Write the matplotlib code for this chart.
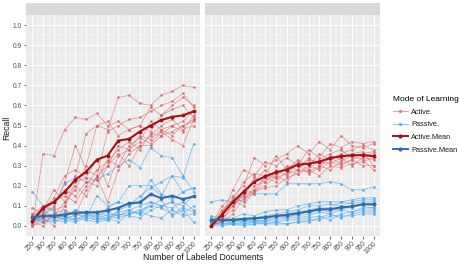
import numpy as np
import matplotlib
matplotlib.use("Agg")
import matplotlib.pyplot as plt
from matplotlib.lines import Line2D

plt.rcParams['font.family'] = ['Liberation Sans', 'DejaVu Sans']

docs = ["250", "300", "350", "400", "450", "500", "550", "600",
        "650", "700", "750", "800", "850", "900", "950", "1000"]

# BERT - individual active runs
bert_active = [
    [.01, .36, .35, .48, .54, .53, .56, .50, .52, .48, .50, .59, .55, .58, .60, .54],
    [.05, .08, .18, .12, .25, .46, .50, .48, .64, .65, .61, .60, .65, .67, .70, .69],
    [.02, .05, .10, .22, .40, .28, .25, .47, .50, .53, .54, .57, .60, .62, .66, .59],
    [.00, .02, .05, .12, .18, .30, .50, .52, .45, .48, .50, .47, .55, .60, .64, .60],
    [.09, .06, .12, .18, .15, .22, .20, .30, .40, .38, .42, .52, .48, .50, .47, .55],
    [.03, .10, .08, .10, .22, .24, .33, .20, .35, .38, .45, .43, .48, .45, .50, .53],
    [.00, .04, .00, .10, .20, .15, .25, .30, .36, .30, .40, .45, .50, .53, .48, .50],
    [.06, .10, .12, .15, .12, .20, .28, .32, .38, .42, .38, .46, .45, .50, .52, .57],
    [.02, .08, .14, .25, .28, .24, .23, .33, .30, .40, .44, .41, .47, .43, .40, .53],
    [.02, .00, .06, .08, .05, .18, .24, .12, .28, .36, .40, .40, .45, .47, .50, .52],
]
bert_passive = [
    [.17, .10, .07, .04, .03, .05, .03, .06, .05, .08, .10, .12, .10, .09, .12, .08],
    [.05, .06, .09, .21, .24, .22, .23, .26, .30, .33, .29, .39, .35, .34, .25, .17],
    [.04, .03, .02, .04, .08, .06, .04, .09, .12, .20, .20, .20, .15, .25, .24, .41],
    [.06, .07, .05, .03, .06, .04, .15, .10, .12, .10, .15, .19, .22, .25, .17, .19],
    [.03, .05, .06, .04, .05, .07, .05, .04, .07, .08, .06, .12, .10, .12, .10, .15],
    [.02, .04, .04, .05, .03, .06, .06, .05, .04, .06, .08, .10, .09, .06, .09, .07],
    [.04, .02, .03, .02, .04, .03, .02, .03, .06, .05, .04, .08, .10, .12, .06, .10],
    [.01, .05, .03, .07, .06, .05, .05, .07, .05, .07, .06, .10, .13, .05, .08, .02],
    [.03, .02, .05, .03, .02, .04, .03, .04, .02, .06, .07, .05, .04, .08, .05, .06],
    [.02, .06, .04, .05, .08, .06, .04, .03, .08, .10, .12, .23, .16, .13, .17, .19],
]
bert_active_mean = [.025, .09, .12, .17, .23, .27, .33, .35, .425, .433, .47, .50, .527, .543, .55, .57]
bert_passive_mean = [.043, .05, .05, .057, .065, .068, .068, .077, .09, .113, .117, .158, .138, .15, .133, .147]

# SVM
svm_active = [
    [0, .10, .15, .20, .34, .30, .33, .36, .40, .36, .42, .38, .45, .40, .39, .41],
    [0, .05, .18, .28, .25, .32, .30, .34, .30, .38, .34, .41, .39, .42, .41, .42],
    [0, .08, .12, .22, .26, .25, .35, .28, .33, .30, .36, .33, .36, .38, .40, .38],
    [0, .03, .10, .15, .22, .28, .24, .30, .28, .34, .30, .35, .33, .36, .37, .30],
    [0, .06, .14, .12, .20, .22, .28, .25, .32, .28, .33, .36, .38, .34, .36, .37],
    [0, .04, .08, .18, .16, .24, .22, .27, .26, .30, .28, .32, .30, .33, .35, .36],
    [0, .07, .13, .10, .18, .20, .25, .22, .28, .27, .30, .28, .32, .35, .33, .28],
    [0, .02, .06, .14, .17, .19, .20, .24, .26, .28, .25, .30, .29, .31, .32, .34],
    [0, .05, .10, .16, .24, .22, .26, .29, .31, .26, .29, .34, .31, .33, .30, .30],
    [0, .06, .12, .15, .18, .25, .24, .26, .28, .33, .32, .31, .34, .30, .34, .33],
]
svm_passive = [
    [.12, .13, .12, .13, .16, .16, .16, .21, .21, .21, .21, .22, .21, .18, .18, .195],
    [.05, .04, .04, .06, .05, .07, .08, .08, .10, .11, .12, .12, .12, .13, .14, .14],
    [.03, .02, .03, .04, .04, .05, .06, .07, .08, .10, .10, .11, .10, .12, .13, .13],
    [.02, .03, .02, .03, .03, .04, .05, .06, .07, .08, .09, .09, .12, .11, .12, .12],
    [.04, .03, .01, .02, .02, .03, .05, .04, .06, .07, .08, .07, .09, .09, .11, .10],
    [.01, .02, .03, .02, .03, .02, .04, .05, .05, .06, .08, .09, .08, .10, .10, .09],
    [.02, .01, .02, .03, .02, .03, .03, .04, .04, .05, .07, .06, .08, .07, .09, .09],
    [.00, .01, .01, .01, .01, .02, .02, .03, .03, .04, .05, .03, .06, .07, .08, .08],
    [.01, .01, .01, .01, .02, .01, .02, .01, .02, .02, .04, .06, .04, .06, .07, .07],
    [.00, .00, .01, .00, .01, .01, .01, .01, .02, .03, .03, .05, .05, .05, .06, .06],
]
svm_active_mean = [0.0, .055, .118, .17, .22, .247, .267, .28, .305, .31, .32, .338, .347, .352, .353, .347]
svm_passive_mean = [.03, .03, .03, .035, .038, .043, .05, .055, .063, .072, .083, .083, .093, .097, .108, .108]

C_ACT = "#D95F5F"
C_PAS = "#4FA8EE"
C_ACT_M = "#A50F15"
C_PAS_M = "#2F6DA6"
TXT = "#4D4D4D"


def draw_panel(ax, title, active, passive, amean, pmean):
    ax.set_facecolor("#EBEBEB")
    for v in passive:
        ax.plot(docs, v, color=C_PAS, lw=0.55, alpha=0.7, marker="o", ms=1.1, zorder=2)
    for v in active:
        ax.plot(docs, v, color=C_ACT, lw=0.55, alpha=0.6, marker="o", ms=1.1, zorder=2)
    ax.plot(docs, amean, color=C_ACT_M, lw=1.5, marker="o", ms=1.8, zorder=4)
    ax.plot(docs, pmean, color=C_PAS_M, lw=1.5, marker="o", ms=1.8, zorder=4)

    ax.set_xlim(-0.6, len(docs) - 0.4)
    ax.set_ylim(-0.05, 1.05)
    ax.set_yticks(np.arange(0, 1.01, 0.1))
    ax.set_yticks(np.arange(0.05, 1.0, 0.1), minor=True)
    ax.set_xticks(np.arange(0.5, len(docs) - 1, 1.0), minor=True)
    ax.grid(which="major", color="white", lw=0.7)
    ax.grid(which="minor", color="white", lw=0.35)
    ax.set_axisbelow(True)
    for s in ax.spines.values():
        s.set_visible(False)
    ax.tick_params(which="major", length=1.8, width=0.5, color="#333333",
                   labelsize=4.8, labelcolor=TXT, pad=1)
    ax.tick_params(which="minor", length=0)
    plt.setp(ax.get_xticklabels(), rotation=45, ha="right", rotation_mode="anchor")
    ax.set_yticklabels([f"{t:.1f}" for t in np.arange(0, 1.01, 0.1)])

    # facet strip label
    ax.text(0.5, 1.0 + 6.5 / 221, title, transform=ax.transAxes, ha="center", va="center",
            fontsize=5.4, color="#1A1A1A")


def main():
    fig = plt.figure(figsize=(4.61, 2.66), dpi=100)
    H = 266.0
    W = 461.0
    bottom = (H - 236) / H
    height = (236 - 15) / H
    ax1 = fig.add_axes([26 / W, bottom, 174 / W, height])
    ax2 = fig.add_axes([204.5 / W, bottom, 175.5 / W, height])

    draw_panel(ax1, "BERT", bert_active, bert_passive, bert_active_mean, bert_passive_mean)
    draw_panel(ax2, "SVM", svm_active, svm_passive, svm_active_mean, svm_passive_mean)
    ax2.tick_params(axis="y", length=0, labelleft=False)

    # strips
    for x0, w in [(26, 174), (204.5, 175.5)]:
        fig.patches.append(plt.Rectangle((x0 / W, (H - 15) / H), w / W, 12 / H,
                                         transform=fig.transFigure, fc="#D9D9D9",
                                         ec="none", zorder=0))

    fig.text(203 / W, (H - 258) / H, "Number of Labeled Documents",
             ha="center", va="center", fontsize=6.2, color="#1A1A1A")
    fig.text(7 / W, (H - 128) / H, "Recall", rotation=90,
             ha="center", va="center", fontsize=6.2, color="#1A1A1A")

    handles = [
        Line2D([], [], color=C_ACT, lw=0.6, alpha=0.65, marker="o", ms=1.5),
        Line2D([], [], color=C_PAS, lw=0.6, alpha=0.75, marker="o", ms=1.5),
        Line2D([], [], color=C_ACT_M, lw=1.4, marker="o", ms=2),
        Line2D([], [], color=C_PAS_M, lw=1.4, marker="o", ms=2),
    ]
    labels = ["Active.", "Passive.", "Active.Mean", "Passive.Mean"]
    leg = fig.legend(handles, labels, title="Mode of Learning",
                     loc="upper left", bbox_to_anchor=(390 / W, (H - 93) / H),
                     frameon=False, fontsize=5.3, title_fontsize=6.0,
                     handlelength=2.0, handletextpad=0.5, labelspacing=0.75,
                     borderaxespad=0)
    leg._legend_box.align = "left"
    for t in leg.get_texts():
        t.set_color("#1A1A1A")

    fig.savefig("out.png", dpi=100)


if __name__ == '__main__':
    main()
